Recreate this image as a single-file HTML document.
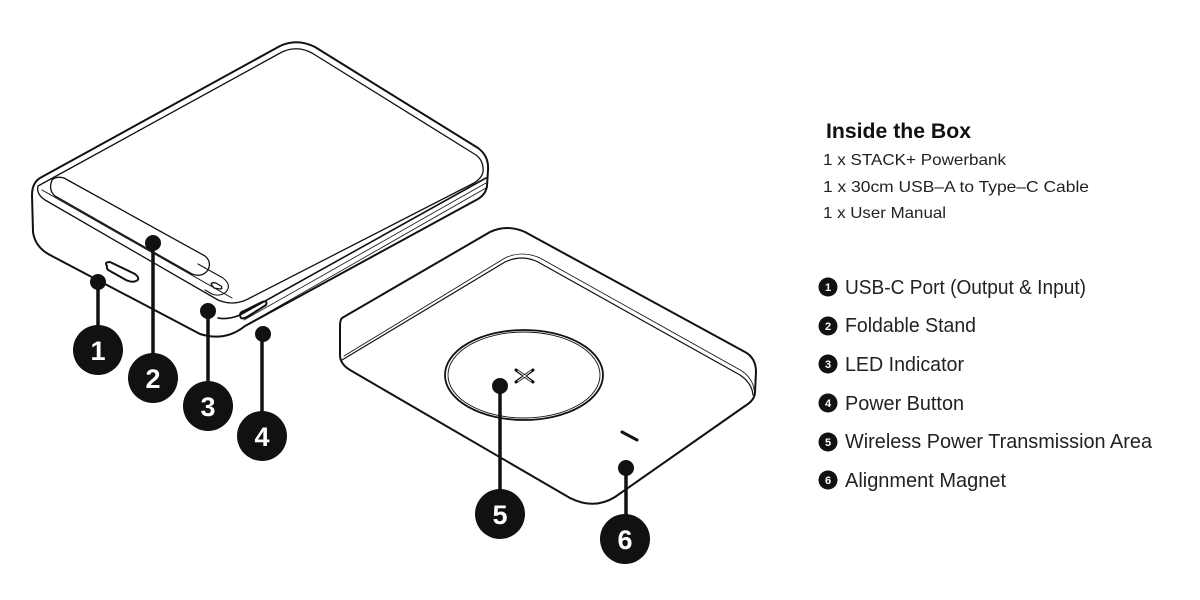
<!DOCTYPE html>
<html><head><meta charset="utf-8"><style>
html,body{margin:0;padding:0;background:#fff;}
svg{display:block;}
text{font-family:"Liberation Sans",sans-serif;fill:#222;}
</style></head><body>
<svg width="1200" height="600" viewBox="0 0 1200 600" xmlns="http://www.w3.org/2000/svg">
<g fill="none" stroke="#111" stroke-linejoin="round" stroke-linecap="round">
<!-- Powerbank 1 -->
<path d="M40,178 L280,46 Q297,38 315,47 L478,148 Q489,156 488,170 L487,186 Q486,194 478,199 L245,326 Q225,342 200,334 L50,255 Q35,247 33,232 L32,195 Q32,183 40,178 Z" stroke-width="2"/>
<path d="M38,186 L282,52 Q297,45 312,53 L476,155 Q484,161 483,172 Q482,178 474,183 L246,300 Q232,306 218,300 L45,200 Q36,194 38,186 Z" stroke-width="1.3"/>
<path d="M42,190 L232,298" stroke-width="1"/>
<path d="M486,178 L240,315 Q228,320 218,318" stroke-width="1.6"/>
<path d="M486,183 L244,320" stroke-width="0.8"/>
<path d="M486,188 L248,324" stroke-width="0.8"/>
<!-- stand -->
<path d="M52,180 Q56,176 64,178 L205,256 Q212,262 208,270 Q202,278 192,274 L55,196 Q48,190 52,180 Z" stroke-width="1.3"/>
<path d="M198,264 L223,278 Q232,285 226,292 Q220,297 212,294 L205,290" stroke-width="1.1"/>
<!-- ports -->
<path d="M107,266 Q104,262 110,262 L135,274 Q141,279 136,281 Q132,283 126,280 L110,271 Q106,269 107,266 Z" stroke-width="2"/>
<path d="M211,284 Q212,282 216,283 L221,286 Q223,289 220,289 L214,288 Z" stroke-width="1.3"/>
<path d="M241,318 Q238,313 244,311 L262,302 Q268,300 266,305 L247,317 Q243,319 241,318 Z" stroke-width="2"/>
<!-- Pad 2 -->
<path d="M342,318 L490,232 Q507,224 525,232 L745,352 Q756,358 756,372 L755,392 Q755,400 745,406 L615,497 Q594,510 570,498 L350,370 Q340,364 340,355 L340,326 Q340,320 342,318 Z" stroke-width="2"/>
<path d="M342,360 L505,262 Q522,254 538,262 L740,375 Q752,383 753,395" stroke-width="1.2"/>
<path d="M344,356 L505,258 Q522,250 540,258 L742,371 Q753,379 754,390" stroke-width="0.8"/>
<ellipse cx="524" cy="375" rx="79" ry="45" stroke-width="1.8"/>
<ellipse cx="524" cy="375" rx="76" ry="43" stroke-width="0.9"/>
<path d="M516,370 L533,382 M516,382 L533,370" stroke-width="3"/>
<path d="M518,371 L531,381 M518,381 L531,371" stroke="#fff" stroke-width="1"/>
<path d="M622,432 L637,440" stroke-width="3"/>
</g>
<!-- callouts -->
<g stroke="#111" stroke-width="3.5">
<line x1="98" y1="282" x2="98" y2="340"/>
<line x1="153" y1="243" x2="153" y2="370"/>
<line x1="208" y1="311" x2="208" y2="398"/>
<line x1="262" y1="334" x2="262" y2="428"/>
<line x1="500" y1="386" x2="500" y2="505"/>
<line x1="626" y1="468" x2="626" y2="530"/>
</g>
<g fill="#111">
<circle cx="98" cy="282" r="8"/><circle cx="153" cy="243" r="8"/><circle cx="208" cy="311" r="8"/>
<circle cx="263" cy="334" r="8"/><circle cx="500" cy="386" r="8"/><circle cx="626" cy="468" r="8"/>
<circle cx="98" cy="350" r="25"/><circle cx="153" cy="378" r="25"/><circle cx="208" cy="406" r="25"/>
<circle cx="262" cy="436" r="25"/><circle cx="500" cy="514" r="25"/><circle cx="625" cy="539" r="25"/>
</g>
<g font-weight="bold" font-size="27" text-anchor="middle">
<text x="98" y="360" style="fill:#fff">1</text><text x="153" y="388" style="fill:#fff">2</text>
<text x="208" y="416" style="fill:#fff">3</text><text x="262" y="446" style="fill:#fff">4</text>
<text x="500" y="524" style="fill:#fff">5</text><text x="625" y="549" style="fill:#fff">6</text>
</g>
<!-- right text -->
<text x="826" y="138" font-size="21" font-weight="bold" style="fill:#111" textLength="145" lengthAdjust="spacingAndGlyphs">Inside the Box</text>
<text x="823" y="165" font-size="16" textLength="183" lengthAdjust="spacingAndGlyphs">1 x STACK+ Powerbank</text>
<text x="823" y="192" font-size="16" textLength="266" lengthAdjust="spacingAndGlyphs">1 x 30cm USB–A to Type–C Cable</text>
<text x="823" y="218" font-size="16" textLength="123" lengthAdjust="spacingAndGlyphs">1 x User Manual</text>
<g fill="#111">
<circle cx="828" cy="287" r="9.5"/><circle cx="828" cy="326" r="9.5"/><circle cx="828" cy="364" r="9.5"/>
<circle cx="828" cy="403" r="9.5"/><circle cx="828" cy="442" r="9.5"/><circle cx="828" cy="480" r="9.5"/>
</g>
<g font-size="11" font-weight="bold" text-anchor="middle">
<text x="828" y="291" style="fill:#fff">1</text><text x="828" y="330" style="fill:#fff">2</text>
<text x="828" y="368" style="fill:#fff">3</text><text x="828" y="407" style="fill:#fff">4</text>
<text x="828" y="446" style="fill:#fff">5</text><text x="828" y="484" style="fill:#fff">6</text>
</g>
<g font-size="20">
<text x="845" y="294" textLength="241" lengthAdjust="spacingAndGlyphs">USB-C Port (Output &amp; Input)</text>
<text x="845" y="332" textLength="131" lengthAdjust="spacingAndGlyphs">Foldable Stand</text>
<text x="845" y="371" textLength="119" lengthAdjust="spacingAndGlyphs">LED Indicator</text>
<text x="845" y="410" textLength="119" lengthAdjust="spacingAndGlyphs">Power Button</text>
<text x="845" y="448" textLength="307" lengthAdjust="spacingAndGlyphs">Wireless Power Transmission Area</text>
<text x="845" y="487" textLength="161" lengthAdjust="spacingAndGlyphs">Alignment Magnet</text>
</g>
</svg>
</body></html>
